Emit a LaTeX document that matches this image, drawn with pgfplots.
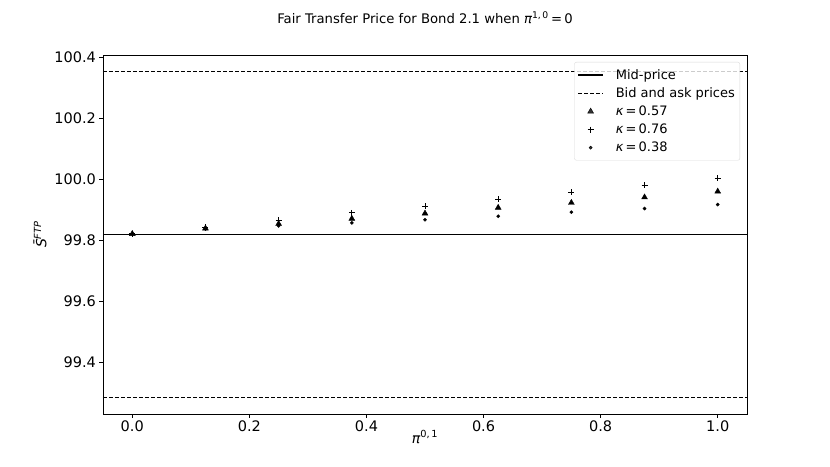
\documentclass[border=0pt]{standalone}
\usepackage{pgfplots}
\pgfplotsset{compat=1.18}
\usepackage{fontspec}
\setmainfont{DejaVu Sans}
\begin{document}
\begin{tikzpicture}
\useasboundingbox (-103bp,-53bp) rectangle (727bp,414bp);
\begin{axis}[
  at={(0,0)}, anchor=south west,
  scale only axis, width=644bp, height=359bp,
  xmin=-0.05, xmax=1.05, ymin=99.2315, ymax=100.4085,
  xtick={0,0.2,0.4,0.6,0.8,1.0},
  ytick={99.4,99.6,99.8,100.0,100.2,100.4},
  tick pos=left, tick align=outside, major tick length=3.5bp,
  every tick/.style={black, line width=0.8bp},
  axis line style={line width=0.8bp},
  /pgf/number format/assume math mode=true,
  xticklabel style={/pgf/number format/.cd, fixed, fixed zerofill, precision=1},
  yticklabel style={/pgf/number format/.cd, fixed, fixed zerofill, precision=1},
  scaled y ticks=false,
  ticklabel style={font=\fontsize{14.5bp}{17bp}\selectfont},
  title={Fair Transfer Price for Bond 2.1 when {\itshape π}\textsuperscript{1,\,0}\,=\,0},
  title style={at={(axis description cs:0.5,1.088)}, anchor=center, font=\fontsize{13.2bp}{16bp}\selectfont},
  xlabel={{\itshape π}\textsuperscript{0,\,1}},
  xlabel style={at={(axis description cs:0.5,-0.064)}, anchor=center, font=\fontsize{14bp}{17bp}\selectfont},
  ylabel={{\itshape \=S}\textsuperscript{\itshape FTP}},
  ylabel style={at={(axis description cs:-0.0978,0.5)}, anchor=center, font=\fontsize{14bp}{17bp}\selectfont},
  legend style={at={(1,1)}, anchor=north east, xshift=-7bp, yshift=-7bp,
    draw=black!15, rounded corners=2bp, fill=white, fill opacity=0.8, text opacity=1,
    font=\fontsize{13bp}{15bp}\selectfont, row sep=3bp, inner xsep=3bp, inner ysep=5bp},
  legend cell align=left,
  legend image code/.code={\draw[#1,mark repeat=2,mark phase=2] plot coordinates {(0bp,0bp)(12.5bp,0bp)(25bp,0bp)}; \path (35bp,0bp);},
]
\addplot[black, line width=1.3bp] coordinates {(-0.05,99.82) (1.05,99.82)};
\addlegendentry{Mid-price}
\addplot[black, line width=1.1bp, dash pattern=on 4bp off 2bp] coordinates {(-0.05,100.355) (1.05,100.355)};
\addlegendentry{Bid and ask prices}
\addplot[black, line width=1.1bp, dash pattern=on 4bp off 2bp, forget plot] coordinates {(-0.05,99.285) (1.05,99.285)};
\addplot[only marks, mark=triangle*, mark size=3.4bp, black] coordinates {
(0,99.822) (0.125,99.840) (0.25,99.855) (0.375,99.872) (0.5,99.889) (0.625,99.908) (0.75,99.924) (0.875,99.942) (1.0,99.961)};
\addlegendentry{{\itshape κ}\,=\,0.57}
\addplot[only marks, mark=+, mark size=3bp, black, line width=0.9bp] coordinates {
(0,99.822) (0.125,99.844) (0.25,99.866) (0.375,99.891) (0.5,99.912) (0.625,99.935) (0.75,99.959) (0.875,99.982) (1.0,100.005)};
\addlegendentry{{\itshape κ}\,=\,0.76}
\addplot[only marks, mark=*, mark size=1.6bp, black] coordinates {
(0,99.822) (0.125,99.838) (0.25,99.848) (0.375,99.858) (0.5,99.868) (0.625,99.880) (0.75,99.893) (0.875,99.905) (1.0,99.918)};
\addlegendentry{{\itshape κ}\,=\,0.38}
\end{axis}
\end{tikzpicture}
\end{document}
